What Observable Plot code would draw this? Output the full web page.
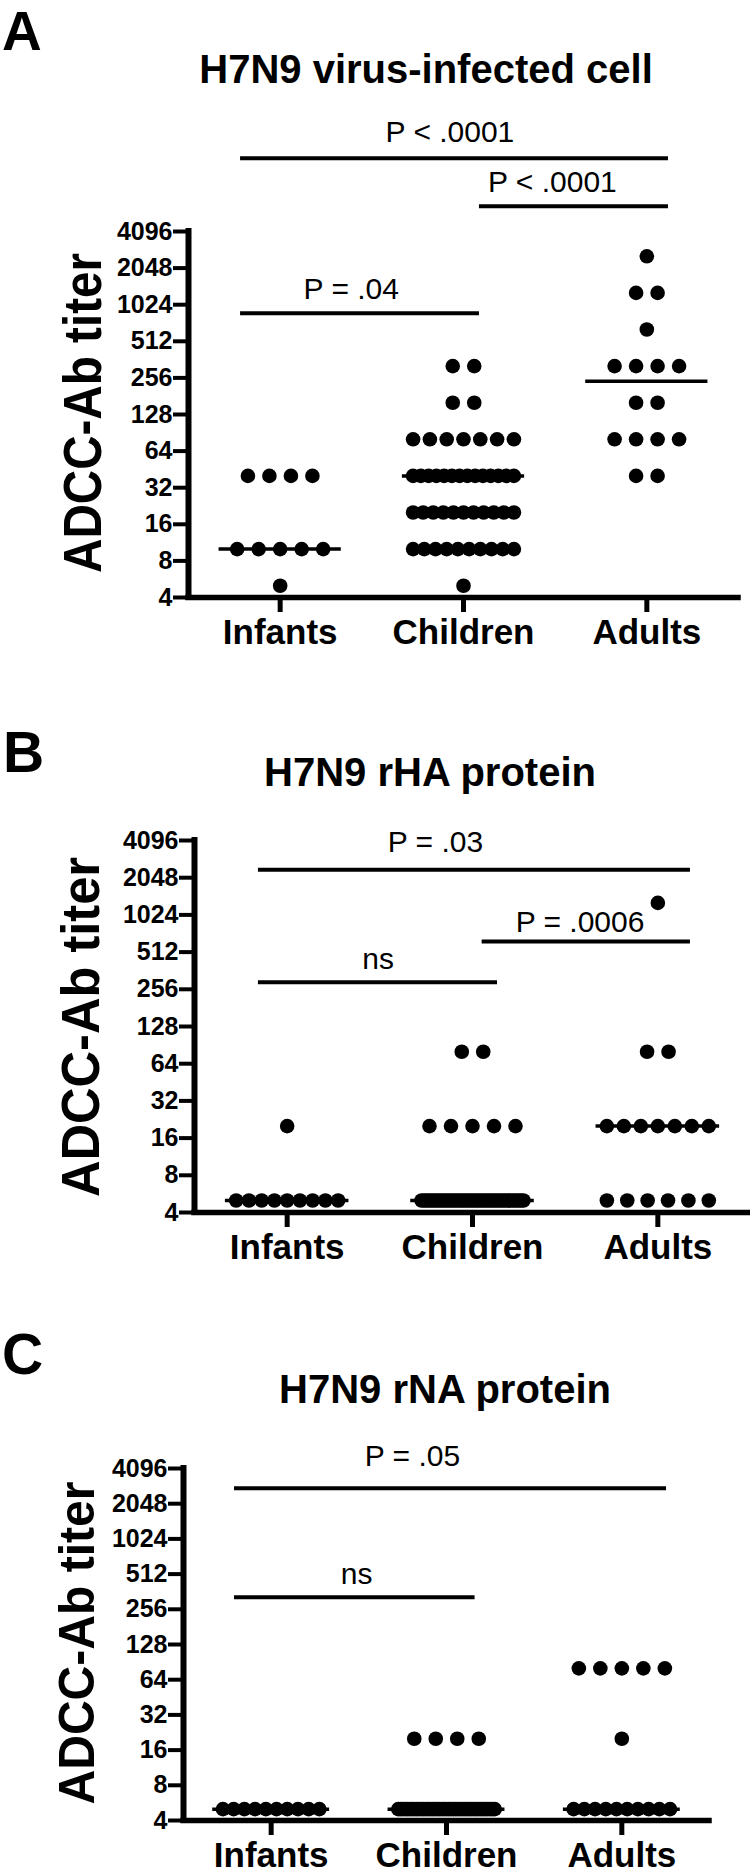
<!DOCTYPE html>
<html>
<head>
<meta charset="utf-8">
<script src="https://cdn.jsdelivr.net/npm/d3@7"></script>
<script src="https://cdn.jsdelivr.net/npm/@observablehq/plot@0.6"></script>
<style>
  body { margin: 0; background: #fff; width: 750px; }
  #chart svg { display: block; }
</style>
</head>
<body>
<div id="chart"></div>
<script>
// ---------- data ----------
const groups = ["Infants", "Children", "Adults"];
const titers = [5, 10, 20, 40, 80, 160, 320, 640, 1280, 2560];
const yTicks = [4, 8, 16, 32, 64, 128, 256, 512, 1024, 2048, 4096];

// number of subjects at each titer level (same order as `titers`)
const cellInfants  = [1, 5, 0, 4, 0, 0, 0, 0, 0, 0];
const cellChildren = [1, 10, 11, 14, 7, 2, 2, 0, 0, 0];
const cellAdults   = [0, 0, 0, 2, 4, 2, 4, 1, 2, 1];

const rhaInfants  = [9, 0, 1, 0, 0, 0, 0, 0, 0, 0];
const rhaChildren = [40, 0, 5, 0, 2, 0, 0, 0, 0, 0];
const rhaAdults   = [6, 0, 7, 0, 2, 0, 0, 0, 1, 0];

const rnaInfants  = [10, 0, 0, 0, 0, 0, 0, 0, 0, 0];
const rnaChildren = [43, 0, 4, 0, 0, 0, 0, 0, 0, 0];
const rnaAdults   = [10, 0, 1, 0, 5, 0, 0, 0, 0, 0];

const panelLetters = ["A", "B", "C"];
const panelTitles = ["H7N9 virus-infected cell", "H7N9 rHA protein", "H7N9 rNA protein"];
const yLabel = "ADCC-Ab titer";

// significance brackets (x in group units: 0 = Infants, 1 = Children, 2 = Adults; levels in titer units)
const cellBrackets = [
  {from: -0.216, to: 2.118, level: 16384, label: "P < .0001", labelX: 0.926, labelLevel: 22230},
  {from: 1.087, to: 2.118, level: 6610, label: "P < .0001", labelX: 1.485, labelLevel: 8600},
  {from: -0.216, to: 1.087, level: 872, label: "P = .04", labelX: 0.388, labelLevel: 1145}
];
const rhaBrackets = [
  {from: -0.155, to: 2.176, level: 2370, label: "P = .03", labelX: 0.800, labelLevel: 3300},
  {from: 1.052, to: 2.176, level: 624, label: "P = .0006", labelX: 1.580, labelLevel: 742},
  {from: -0.155, to: 1.135, level: 292, label: "ns", labelX: 0.491, labelLevel: 375}
];
const rnaBrackets = [
  {from: -0.209, to: 2.255, level: 2780, label: "P = .05", labelX: 0.806, labelLevel: 4340},
  {from: -0.209, to: 1.163, level: 325, label: "ns", labelX: 0.487, labelLevel: 425}
];

// ---------- layout ----------
const FONT = "'Liberation Sans', Arial, Helvetica, sans-serif";
const panels = [
  {counts: [cellInfants, cellChildren, cellAdults], brackets: cellBrackets, height: 670,
   left: 188, right: 12, top: 231, bottom: 73,
   letter: {x: 2, y: 50, size: 55}, title: {x: 426, y: 83}, ylab: {x: 101, y: 413, size: 54, len: 320}},
  {counts: [rhaInfants, rhaChildren, rhaAdults], brackets: rhaBrackets, height: 605,
   left: 194, right: 0, top: 170, bottom: 63,
   letter: {x: 3, y: 102, size: 57}, title: {x: 430, y: 116}, ylab: {x: 99, y: 357, size: 54, len: 340}},
  {counts: [rnaInfants, rnaChildren, rnaAdults], brackets: rnaBrackets, height: 596,
   left: 183, right: 41, top: 193, bottom: 51,
   letter: {x: 2, y: 99, size: 57}, title: {x: 445, y: 128}, ylab: {x: 94, y: 368, size: 50, len: 323}}
];

const chart = document.getElementById("chart");

panels.forEach((p, idx) => {
  const spacing = (750 - p.left - p.right) / 3;
  const step = 21.5, maxSpread = 0.55 * spacing;
  const pts = [];
  p.counts.forEach((cnt, gi) => cnt.forEach((n, ti) => {
    const s = n > 1 ? Math.min(step, maxSpread / (n - 1)) : 0;
    for (let k = 0; k < n; k++) pts.push({gi, titer: titers[ti], x: gi + (k - (n - 1) / 2) * s / spacing});
  }));
  const meds = p.counts.map((cnt, gi) => ({
    gi, m: d3.median(cnt.flatMap((n, ti) => Array(n).fill(titers[ti])))
  }));

  const svg = Plot.plot({
    width: 750, height: p.height,
    marginLeft: p.left, marginRight: p.right, marginTop: p.top, marginBottom: p.bottom,
    style: {fontFamily: FONT, color: "black", background: "white", overflow: "visible"},
    x: {type: "linear", domain: [-0.5, 2.5]},
    y: {type: "log", base: 2, domain: [4, 4096]},
    marks: [
      Plot.axisY({ticks: yTicks, tickFormat: d => String(d), tickSize: 15, tickPadding: 1,
                  strokeWidth: 4, fontSize: 25, fontWeight: "bold", label: null}),
      Plot.axisX({ticks: [0, 1, 2], tickFormat: i => groups[i], tickSize: 15, tickPadding: 7,
                  strokeWidth: 5, fontSize: 35, fontWeight: "bold", label: null}),
      Plot.ruleX([-0.5], {y1: 4, y2: 4096, strokeWidth: 6, strokeLinecap: "square"}),
      Plot.ruleY([4], {x1: -0.5, x2: 2.5, strokeWidth: 5.5, strokeLinecap: "square"}),
      Plot.ruleY(meds, {y: "m", x1: d => d.gi - 1 / 3, x2: d => d.gi + 1 / 3, strokeWidth: 3.5}),
      Plot.dot(pts, {x: "x", y: "titer", r: 7.3, fill: "black"}),
      Plot.ruleY(p.brackets, {y: "level", x1: "from", x2: "to", strokeWidth: 4}),
      Plot.text(p.brackets, {x: "labelX", y: "labelLevel", text: "label", fontSize: 30,
                             lineAnchor: "bottom", textAnchor: "middle", fill: "black", ariaLabel: "pvalue"})
    ]
  });

  const s = d3.select(svg);
  s.selectAll('g[aria-label="pvalue"] text').each(function () {
    const t = this.textContent;
    this.style.letterSpacing = "1.5px";
    this.style.whiteSpace = "pre";
    if (t.startsWith("P")) {
      this.textContent = "";
      d3.select(this).append("tspan").attr("font-style", "italic").style("font-style", "italic").text("P");
      d3.select(this).append("tspan").text(t.slice(1));
    }
  });

  s.append("text").attr("x", p.letter.x).attr("y", p.letter.y)
    .attr("text-anchor", "start")
    .attr("font-size", p.letter.size).attr("font-weight", "bold").attr("fill", "black")
    .text(panelLetters[idx]);
  s.append("text").attr("x", p.title.x).attr("y", p.title.y)
    .attr("text-anchor", "middle").attr("font-size", 40).attr("font-weight", "bold").attr("fill", "black")
    .text(panelTitles[idx]);
  s.append("text")
    .attr("transform", `translate(${p.ylab.x},${p.ylab.y}) rotate(-90)`)
    .attr("text-anchor", "middle").attr("font-size", p.ylab.size).attr("font-weight", "bold").attr("fill", "black")
    .attr("textLength", p.ylab.len).attr("lengthAdjust", "spacingAndGlyphs")
    .text(yLabel);

  chart.appendChild(svg);
});
</script>
</body>
</html>
